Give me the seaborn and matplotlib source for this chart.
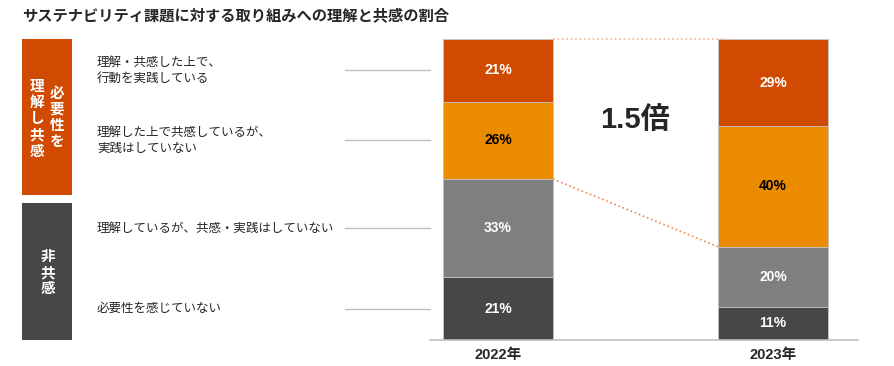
import numpy as np
import pandas as pd
import matplotlib
matplotlib.use('Agg')
import matplotlib.pyplot as plt
import matplotlib.transforms as mtransforms
from matplotlib.patches import Rectangle
import seaborn as sns

# --- Data (bottom -> top of each stacked bar) ---
years = ['2022年', '2023年']
categories = [
    '必要性を感じていない',
    '理解しているが、共感・実践はしていない',
    '理解した上で共感しているが、\n実践はしていない',
    '理解・共感した上で、\n行動を実践している',
]
share_2022 = [21, 33, 26, 21]
share_2023 = [11, 20, 40, 29]
colors = ['#474747', '#7F7F7F', '#EB8C00', '#D04A02']
label_colors = ['white', 'white', 'black', 'white']

title = 'サステナビリティ課題に対する取り組みへの理解と共感の割合'
group_empathy = ['必要性を', '理解し共感']
group_none = '非共感'

# --- Style ---
sns.set_style('white')
plt.rcParams['font.family'] = ['Noto Sans CJK JP', 'DejaVu Sans']
NUM_FONT = ['Liberation Sans', 'Noto Sans CJK JP']

# --- Long table with normalised shares + cumulative tops ---
rows = []
for year, shares in zip(years, [share_2022, share_2023]):
    total = sum(shares)
    cum = 0
    for i, (cat, v) in enumerate(zip(categories, shares)):
        h = v / total * 100
        rows.append({'year': year, 'layer': i, 'category': cat, 'value': v,
                     'bottom': cum, 'top': cum + h})
        cum += h
df = pd.DataFrame(rows)

fig = plt.figure(figsize=(8.94, 3.66), dpi=100)
W, H = 894, 366
ax = fig.add_axes([430 / W, (H - 340) / H, 428 / W, 301 / H])

# stacked bars: draw cumulative tops, largest first
for i in reversed(range(len(categories))):
    sns.barplot(data=df[df.layer == i], x='year', y='top', order=years,
                color=colors[i], width=0.4, errorbar=None, saturation=1,
                edgecolor='#C8C8C8', linewidth=0.6, ax=ax)

# segment labels
for _, r in df.iterrows():
    xi = years.index(r.year)
    ax.text(xi, (r.bottom + r.top) / 2, f'{r.value}%', ha='center', va='center',
            fontsize=10, fontweight='bold', family=NUM_FONT,
            color=label_colors[r.layer])

# dotted connectors for the "empathy" block (top two layers)
half = 0.2
d0 = df[(df.year == years[0]) & (df.layer == 2)].iloc[0]
d1 = df[(df.year == years[1]) & (df.layer == 2)].iloc[0]
ax.plot([half, 1 - half + 0.02], [100, 100], ls=':', lw=1.2, color='#F4B899', clip_on=False)
ax.plot([half, 1 - half], [d0.bottom, d1.bottom], ls=':', lw=1.2, color='#EE8A5A', clip_on=False)

ratio = (share_2023[2] + share_2023[3]) / (share_2022[2] + share_2022[3])
ax.text(0.5, 73, f'{ratio:.1f}倍', ha='center', va='center', fontsize=21,
        fontweight='bold', family=NUM_FONT)

# category labels + leader lines (aligned with 2022 segments)
blend = mtransforms.blended_transform_factory(ax.transAxes, ax.transData)
for _, r in df[df.year == years[0]].iterrows():
    y = (r.bottom + r.top) / 2
    ax.plot([-0.199, 0.0], [y, y], color='#BFBFBF', lw=1, transform=blend,
            clip_on=False, zorder=0)
    ax.text(-0.778, y, r.category, transform=blend, ha='left', va='center',
            fontsize=9, linespacing=1.25)

# axes cosmetics
ax.set_xlim(-0.247, 1.309)
ax.set_ylim(0, 100)
ax.set_xlabel('')
ax.set_ylabel('')
ax.set_yticks([])
for s in ['top', 'right', 'left']:
    ax.spines[s].set_visible(False)
ax.spines['bottom'].set_color('#BFBFBF')
ax.spines['bottom'].set_linewidth(1.2)
ax.tick_params(axis='x', length=0, pad=6)
for t in ax.get_xticklabels():
    t.set_fontweight('bold')
    t.set_fontsize(10.5)
    t.set_family(NUM_FONT)

# group boxes on the left
fig.add_artist(Rectangle((22 / W, (H - 195) / H), 50 / W, 156 / H,
                         transform=fig.transFigure, color='#D04A02', lw=0))
fig.add_artist(Rectangle((22 / W, (H - 340) / H), 50 / W, 137 / H,
                         transform=fig.transFigure, color='#474747', lw=0))
fig.text(57 / W, 1 - 117 / H, '\n'.join(group_empathy[0]), ha='center', va='center',
         color='white', fontsize=10.5, fontweight='bold', linespacing=1.02)
fig.text(37 / W, 1 - 118.5 / H, '\n'.join(group_empathy[1]), ha='center', va='center',
         color='white', fontsize=10.5, fontweight='bold', linespacing=1.02)
fig.text(48 / W, 1 - 272 / H, '\n'.join(group_none), ha='center', va='center',
         color='white', fontsize=10.5, fontweight='bold', linespacing=1.02)

fig.text(22 / W, 1 - 15 / H, title, ha='left', va='center', fontsize=11, fontweight='bold')

fig.savefig('out.png', dpi=100)
